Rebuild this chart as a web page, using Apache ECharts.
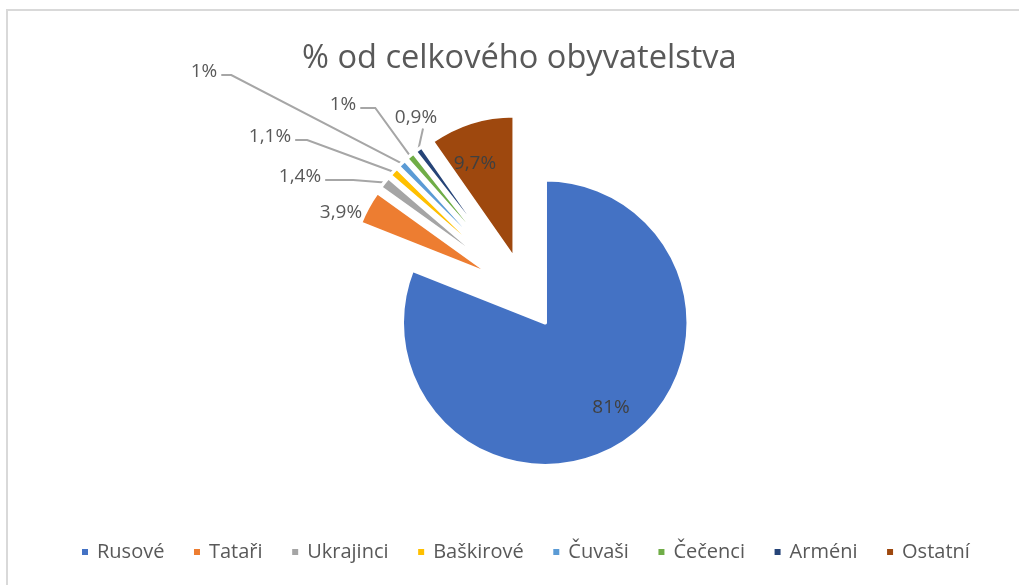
<!DOCTYPE html>
<html>
<head>
<meta charset="utf-8">
<script src="https://cdn.jsdelivr.net/npm/echarts@6/dist/echarts.min.js"></script>
<style>
html, body { margin: 0; padding: 0; background: #fff; overflow: hidden; }
#frame { position: absolute; left: 6px; top: 9px; width: 1100px; height: 700px;
         border-left: 2px solid #d9d9d9; border-top: 2px solid #d9d9d9; }
#main { position: absolute; left: 0; top: 0; width: 1019px; height: 585px; }
</style>
</head>
<body>
<div id="frame"></div>
<div id="main"></div>
<script>
var groups = ['Rusové', 'Tataři', 'Ukrajinci', 'Baškirové', 'Čuvaši', 'Čečenci', 'Arméni', 'Ostatní'];
var shares = [81, 3.9, 1.4, 1.1, 1, 1, 0.9, 9.7];

// office palette
var colors = ['#4472C4', '#ED7D31', '#A5A5A5', '#FFC000', '#5B9BD5', '#70AD47', '#264478', '#9E480E'];

// where excel put the labels (text centres)
var labelSpots = [[611, 408], [341, 213], [300, 177], [270, 137], [204, 72], [343, 105], [416, 118], [475, 164]];
// horizontal stub of each leader line (null = no line, -1 = straight down from label)
var lineKinks = [null, null, 28, 12, 10, 15, -1, null];

var explode = 36;

var chart = echarts.init(document.getElementById('main'));

function fmt(p) {
        return String(p.value).replace('.', ',') + '%';
}

// labels ride along with the exploded slice, so work out each slice's shift
var total = 0;
for (var i = 0; i < shares.length; i++) total += shares[i];
var shifts = [];
var acc = 0;
for (var i = 0; i < shares.length; i++) {
        var mid = (acc + shares[i] / 2) / total * Math.PI * 2;
        acc += shares[i];
        shifts.push([explode * Math.sin(mid), -explode * Math.cos(mid)]);
}

var pieData = [];
for (var i = 0; i < groups.length; i++) {
        var item = {
                name: groups[i],
                value: shares[i],
                selected: true,
                itemStyle: { color: colors[i] }
        };
        if (i == 0 || i == groups.length - 1) {
                item.label = { position: 'inside', color: '#404040' };
        }
        if (i == 1) {
                item.labelLine = { show: false };
        }
        pieData.push(item);
}

chart.setOption({
        animation: false,
        title: {
                text: '% od celkového obyvatelstva',
                left: 297,
                top: 37,
                textStyle: { fontFamily: 'Open Sans', fontSize: 32.6, fontWeight: 'normal', color: '#595959' }
        },
        legend: {
                data: groups,
                bottom: 18,
                left: 75,
                icon: 'rect',
                itemWidth: 8,
                itemHeight: 8,
                itemGap: 27.6,
                selectedMode: false,
                textStyle: { fontFamily: 'Open Sans', fontSize: 20, color: '#595959', padding: [0, 0, 0, 3] }
        },
        series: [{
                type: 'pie',
                center: [525, 293],
                radius: 143,
                startAngle: 90,
                clockwise: true,
                selectedMode: 'multiple',
                selectedOffset: explode,
                avoidLabelOverlap: false,
                itemStyle: { borderColor: '#fff', borderWidth: 3.5 },
                label: {
                        show: true,
                        position: 'outside',
                        formatter: fmt,
                        fontFamily: 'Open Sans',
                        fontSize: 19,
                        color: '#595959'
                },
                labelLine: {
                        show: true,
                        length: 10,
                        length2: 12,
                        lineStyle: { color: '#a6a6a6', width: 2 }
                },
                labelLayout: function (params) {
                        var i = params.dataIndex;
                        var sx = labelSpots[i][0] - shifts[i][0];
                        var sy = labelSpots[i][1] - shifts[i][1];
                        var r = params.labelRect;
                        var out = {
                                dx: sx - (r.x + r.width / 2),
                                dy: sy - (r.y + r.height / 2)
                        };
                        var pts = params.labelLinePoints;
                        if (pts && lineKinks[i] != null) {
                                var end, bend;
                                if (lineKinks[i] < 0) {
                                        end = [sx + 7, sy + r.height / 2 + 1];
                                        bend = end;
                                } else {
                                        end = [sx + r.width / 2 + 4, sy + 3];
                                        bend = [end[0] + lineKinks[i], end[1]];
                                }
                                out.labelLinePoints = [pts[0], bend, end];
                        }
                        return out;
                },
                emphasis: { disabled: true },
                data: pieData
        }]
});
</script>
</body>
</html>
